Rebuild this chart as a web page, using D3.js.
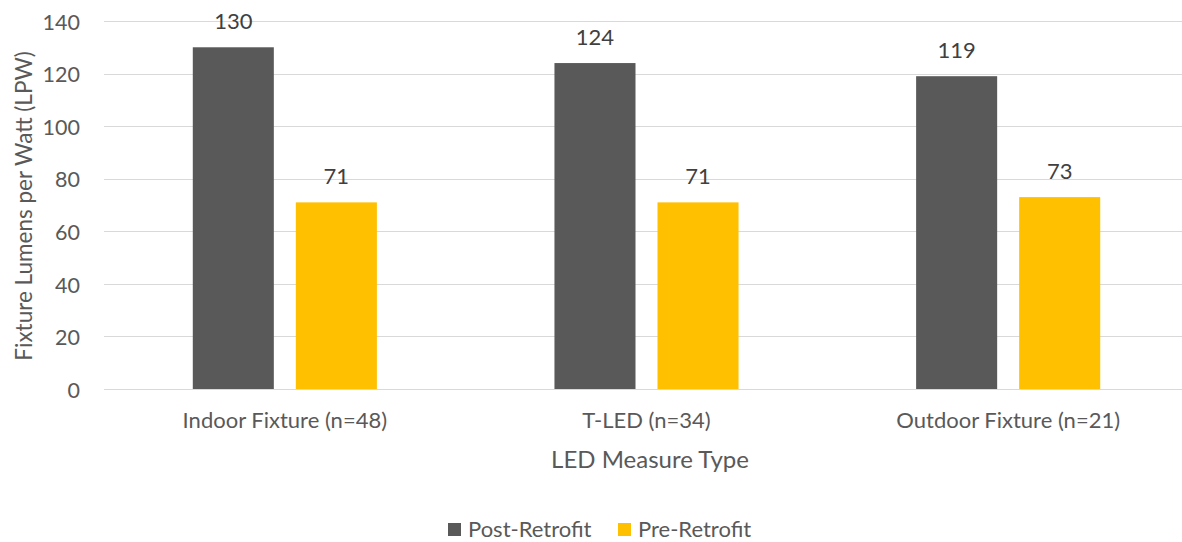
<!DOCTYPE html>
<html>
<head>
<meta charset="utf-8">
<script src="https://cdn.jsdelivr.net/npm/d3@7"></script>
<style>
  html, body { margin: 0; padding: 0; background: #fff; }
  svg { display: block; font-family: Lato, "Open Sans", sans-serif; }
</style>
</head>
<body>
<svg id="chart" width="1182" height="542"></svg>
<script>
// LED fixture efficacy before and after retrofit
const categories = ["Indoor Fixture (n=48)", "T-LED (n=34)", "Outdoor Fixture (n=21)"];
const series = ["Post-Retrofit", "Pre-Retrofit"];
const postRetrofit = [130, 124, 119];
const preRetrofit = [71, 71, 73];
const yTicks = [0, 20, 40, 60, 80, 100, 120, 140];
const colors = ["#595959", "#FFC000"];

const values = [postRetrofit, preRetrofit];
const rows = categories.map((c, i) => ({
  category: c,
  bars: series.map((s, j) => ({ series: s, value: values[j][i], color: colors[j] }))
}));

const svg = d3.select("#chart");
const textColor = "#595959";
const fontFamily = "Lato, 'Open Sans', sans-serif";

const plot = { left: 104, right: 1189, top: 21, bottom: 389 };

const y = d3.scaleLinear().domain([0, 140]).range([plot.bottom, plot.top]);

const x0 = d3.scaleBand()
  .domain(categories)
  .range([plot.left, plot.right])
  .paddingInner(0.491)
  .paddingOuter(0.2455);

const x1 = d3.scaleBand()
  .domain(series)
  .range([0, x0.bandwidth()])
  .paddingInner(0.2136)
  .paddingOuter(0);

// gridlines
svg.append("g")
  .selectAll("line")
  .data(yTicks)
  .join("line")
  .attr("x1", plot.left)
  .attr("x2", plot.right)
  .attr("y1", d => Math.round(y(d)) + 0.5)
  .attr("y2", d => Math.round(y(d)) + 0.5)
  .attr("stroke", "#d9d9d9")
  .attr("stroke-width", 1.2);

// y axis tick labels
const yAxis = svg.append("g")
  .attr("transform", `translate(${plot.left - 24},0)`)
  .call(d3.axisLeft(y).tickValues(yTicks).tickSize(0).tickPadding(0));
yAxis.select(".domain").remove();
yAxis.selectAll("text")
  .attr("dy", "0.38em")
  .attr("fill", textColor)
  .style("font-size", "21.5px")
  .style("font-family", fontFamily);

// bars
const groups = svg.append("g")
  .selectAll("g")
  .data(rows)
  .join("g")
  .attr("transform", d => `translate(${x0(d.category)},0)`);

groups.selectAll("rect")
  .data(d => d.bars)
  .join("rect")
  .attr("x", d => x1(d.series))
  .attr("width", x1.bandwidth())
  .attr("y", d => y(d.value))
  .attr("height", d => y(0) - y(d.value))
  .attr("fill", d => d.color);

groups.selectAll("text.value")
  .data(d => d.bars)
  .join("text")
  .attr("class", "value")
  .attr("x", d => x1(d.series) + x1.bandwidth() / 2)
  .attr("y", d => y(d.value) - 18)
  .attr("text-anchor", "middle")
  .attr("fill", "#404040")
  .style("font-size", "22px")
  .text(d => d.value);

// x axis category labels
const xAxis = svg.append("g")
  .attr("transform", `translate(0,${plot.bottom})`)
  .call(d3.axisBottom(x0).tickSize(0).tickPadding(0));
xAxis.select(".domain").remove();
xAxis.selectAll("text")
  .attr("dy", null)
  .attr("y", 39)
  .attr("fill", textColor)
  .style("font-size", "22px")
  .style("font-family", fontFamily);

// axis titles
svg.append("text")
  .attr("x", 650)
  .attr("y", 468)
  .attr("text-anchor", "middle")
  .attr("fill", textColor)
  .style("font-size", "24px")
  .text("LED Measure Type");

svg.append("text")
  .attr("transform", `translate(32,206) rotate(-90)`)
  .attr("text-anchor", "middle")
  .attr("fill", textColor)
  .style("font-size", "22.5px")
  .text("Fixture Lumens per Watt (LPW)");

// legend
const legend = svg.append("g").attr("transform", "translate(448,523)");
const legendX = [0, 170];
const items = legend.selectAll("g")
  .data(series)
  .join("g")
  .attr("transform", (d, i) => `translate(${legendX[i]},0)`);
items.append("rect")
  .attr("width", 13)
  .attr("height", 13)
  .attr("fill", (d, i) => colors[i]);
items.append("text")
  .attr("x", 20)
  .attr("y", 14)
  .attr("fill", textColor)
  .style("font-size", "22px")
  .text(d => d);
</script>
</body>
</html>
